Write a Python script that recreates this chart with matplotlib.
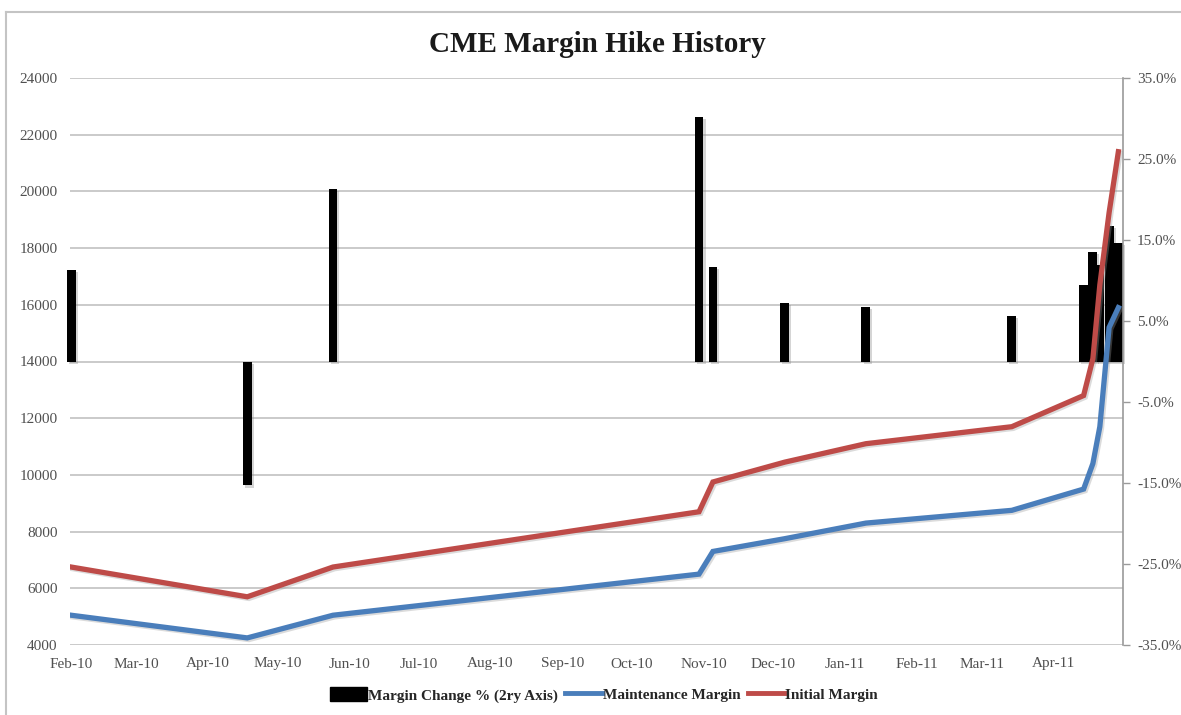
import matplotlib
matplotlib.use("Agg")
import matplotlib.pyplot as plt
import matplotlib.dates as mdates
import matplotlib.patheffects as pe
import numpy as np
from matplotlib.patches import Patch
from matplotlib.lines import Line2D
from matplotlib.ticker import FixedLocator, FuncFormatter

# ---------------- data ----------------
dates = ["2010-02-01", "2010-04-18", "2010-05-25", "2010-10-30", "2010-11-05",
         "2010-12-06", "2011-01-10", "2011-03-14", "2011-04-14", "2011-04-18",
         "2011-04-21", "2011-04-25", "2011-04-29"]
margin_change_pct = [11.3, -15.3, 21.3, 30.2, 11.7, 7.2, 6.7, 5.6, 9.4, 13.5, 11.9, 16.7, 14.6]
maintenance_margin = [5050, 4250, 5050, 6500, 7300, 7750, 8300, 8750, 9500, 10400, 11700, 15200, 15900]
initial_margin = [6750, 5700, 6750, 8700, 9750, 10450, 11100, 11700, 12800, 14100, 16700, 19250, 21400]

month_starts = ["2010-02-01", "2010-03-01", "2010-04-01", "2010-05-01", "2010-06-01",
                "2010-07-01", "2010-08-01", "2010-09-01", "2010-10-01", "2010-11-01",
                "2010-12-01", "2011-01-01", "2011-02-01", "2011-03-01", "2011-04-01"]
month_labels = ["Feb-10", "Mar-10", "Apr-10", "May-10", "Jun-10", "Jul-10", "Aug-10",
                "Sep-10", "Oct-10", "Nov-10", "Dec-10", "Jan-11", "Feb-11", "Mar-11", "Apr-11"]
left_ticks = list(range(4000, 24001, 2000))
right_ticks = [-35, -25, -15, -5, 5, 15, 25, 35]

title = "CME Margin Hike History"
legend_labels = ["Margin Change % (2ry Axis)", "Maintenance Margin", "Initial Margin"]

# ---------------- style ----------------
SERIF = ["Liberation Serif", "DejaVu Serif"]
plt.rcParams["font.family"] = SERIF
BLUE = "#4a7ebb"
RED = "#be4b48"
GRID = "#c6c6c6"
TICKC = "#505050"

x = mdates.date2num(np.array(dates, dtype="datetime64[D]"))
xm = mdates.date2num(np.array(month_starts, dtype="datetime64[D]"))

W, H = 1181, 715
fig = plt.figure(figsize=(W / 100, H / 100), dpi=100)
fig.patch.set_facecolor("white")

# plot rectangle (pixels): left 70, right 1123, top 78, bottom 645
L, R, T, B = 70, 1123, 78, 645
rect = [L / W, (H - B) / H, (R - L) / W, (B - T) / H]

ax = fig.add_axes(rect)          # left axis (values), gridlines
ax2 = ax.twinx()                 # right axis (%) bars
ax3 = ax.twinx()                 # lines on top, shares left scale

x0 = mdates.date2num(np.datetime64("2010-01-31T12:00"))
x1 = mdates.date2num(np.datetime64("2011-05-01"))
for a in (ax, ax2, ax3):
    a.set_xlim(x0, x1)
    a.patch.set_visible(False)
    for s in a.spines.values():
        s.set_visible(False)

ax.set_ylim(4000, 24000)
ax3.set_ylim(4000, 24000)
ax2.set_ylim(-35, 35)

# gridlines
ax.yaxis.set_major_locator(FixedLocator(left_ticks))
ax.grid(axis="y", color=GRID, lw=1.3)
ax.set_axisbelow(True)
ax.tick_params(axis="y", length=0, pad=9, labelsize=11, labelcolor=TICKC)
ax.yaxis.set_major_formatter(FuncFormatter(lambda v, p: f"{int(v)}"))

ax.xaxis.set_major_locator(FixedLocator(xm))
ax.set_xticklabels(month_labels)
ax.tick_params(axis="x", length=0, pad=9, labelsize=11, labelcolor=TICKC)

# bars (right axis)
ax2.bar(x, margin_change_pct, width=3.8, color="black", zorder=2, clip_on=False,
        path_effects=[pe.SimplePatchShadow(offset=(1.5, -1.5), shadow_rgbFace="#888888", alpha=0.35), pe.Normal()])
ax2.yaxis.set_major_locator(FixedLocator(right_ticks))
ax2.yaxis.set_major_formatter(FuncFormatter(lambda v, p: f"{v:.1f}%"))
ax2.tick_params(axis="y", length=5, width=1, color="#9a9a9a", direction="out", pad=5,
                labelsize=11, labelcolor=TICKC)
ax2.spines["right"].set_visible(True)
ax2.spines["right"].set_color("#9a9a9a")
ax2.spines["right"].set_linewidth(1.2)
ax2.tick_params(axis="x", length=0, labelbottom=False)

# lines (left scale)
shadow = [pe.SimpleLineShadow(offset=(1.2, -1.2), shadow_color="#999999", alpha=0.35), pe.Normal()]
ax3.plot(x, maintenance_margin, color=BLUE, lw=3.8, solid_joinstyle="miter", path_effects=shadow)
ax3.plot(x, initial_margin, color=RED, lw=3.8, solid_joinstyle="miter", path_effects=shadow)
ax3.set_yticks([])
ax3.tick_params(axis="x", length=0, labelbottom=False)

# title
fig.text(597 / W, 1 - 45 / H, title, ha="center", va="center", fontsize=21,
         fontweight="bold", color="#1a1a1a")

# chart frame (left and top borders)
fig.add_artist(Line2D([6 / W, 6 / W], [0, 1 - 12 / H], color="#c4c4c4", lw=1.5))
fig.add_artist(Line2D([6 / W, 1], [1 - 12 / H, 1 - 12 / H], color="#c4c4c4", lw=1.5))

# legend
handles = [Patch(facecolor="black", edgecolor="black"),
           Line2D([], [], color=BLUE, lw=3.5),
           Line2D([], [], color=RED, lw=3.5)]
fig.legend(handles, legend_labels, loc="center", bbox_to_anchor=(604 / W, 1 - 695 / H),
           ncol=3, frameon=False, handlelength=2.4, handleheight=1.0, handletextpad=0.05,
           columnspacing=0.5, prop={"family": SERIF, "size": 11, "weight": "bold"},
           labelcolor="#262626")

fig.savefig("out.png", dpi=100, facecolor="white")
